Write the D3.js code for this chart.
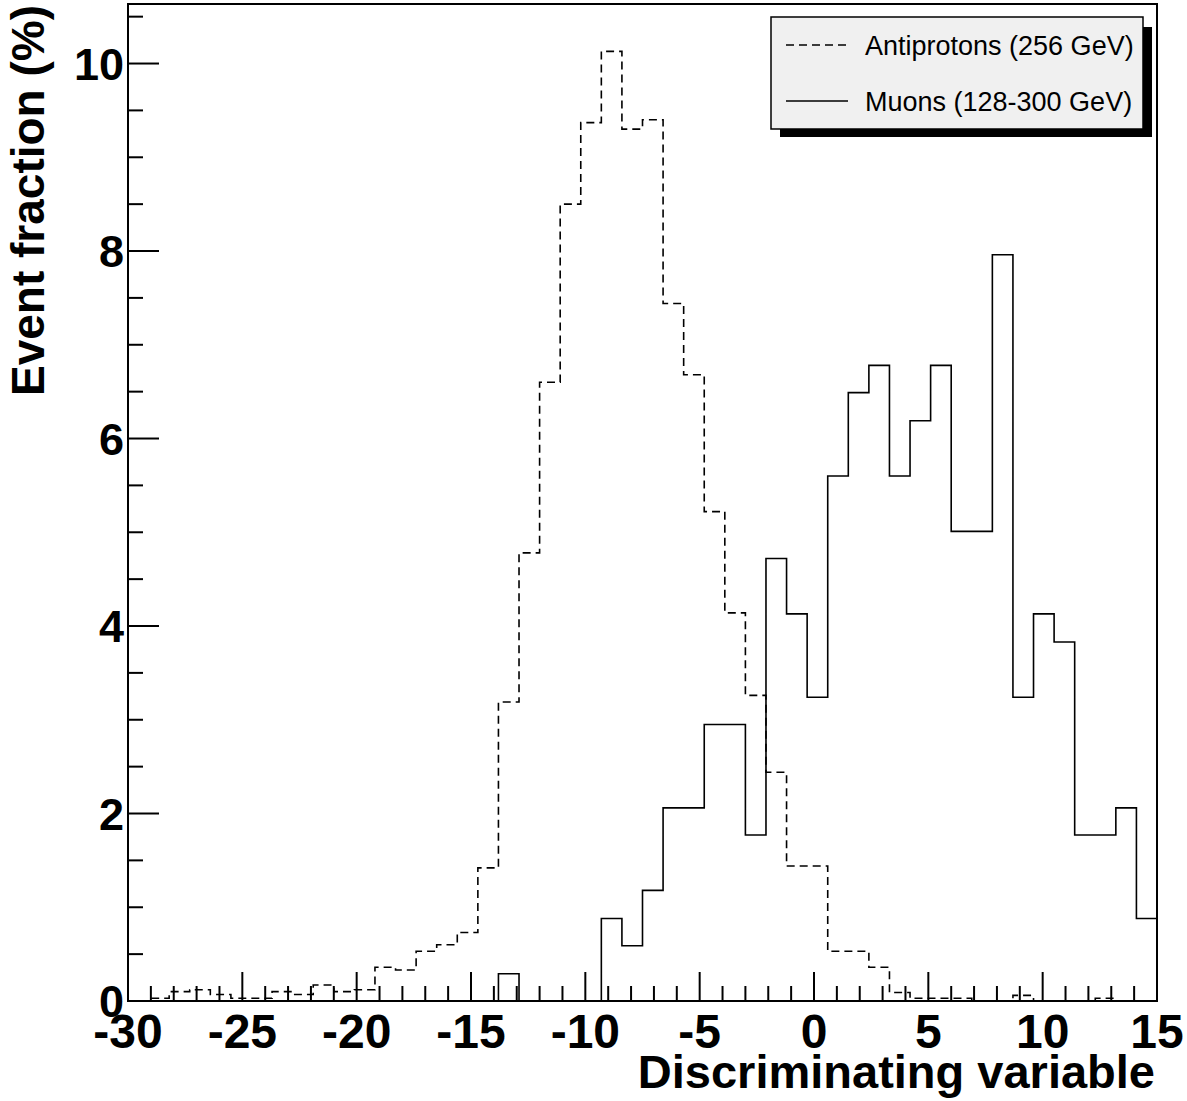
<!DOCTYPE html>
<html>
<head>
<meta charset="utf-8">
<script src="https://cdn.jsdelivr.net/npm/d3@7"></script>
<style>
  body { margin: 0; background: #fff; }
  svg { display: block; font-family: "Liberation Sans", Arial, Helvetica, sans-serif; }
</style>
</head>
<body>
<svg id="chart" width="1187" height="1101"></svg>
<script>
// histogram binning: 50 bins from -30 to 15
const binLow = -30;
const binWidth = 0.9;
const nBins = 50;

// event fraction (%) per bin
const antiprotons = [
  0, 0.03, 0.10, 0.12, 0.07, 0.03, 0.03, 0.10, 0.07, 0.17,
  0.10, 0.12, 0.36, 0.33, 0.53, 0.60, 0.73, 1.42, 3.19, 4.78,
  6.60, 8.50, 9.37, 10.13, 9.30, 9.40, 7.44, 6.68, 5.22, 4.14,
  3.26, 2.44, 1.44, 1.44, 0.53, 0.53, 0.36, 0.09, 0.03, 0.03,
  0.03, 0, 0, 0.06, 0, 0, 0, 0.03, 0, 0
];
const muons = [
  0, 0, 0, 0, 0, 0, 0, 0, 0, 0,
  0, 0, 0, 0, 0, 0, 0, 0, 0.29, 0,
  0, 0, 0, 0.88, 0.59, 1.18, 2.06, 2.06, 2.95, 2.95,
  1.77, 4.72, 4.13, 3.24, 5.60, 6.49, 6.78, 5.60, 6.19, 6.78,
  5.01, 5.01, 7.96, 3.24, 4.13, 3.83, 1.77, 1.77, 2.06, 0.88
];

const xTicks = [-30, -25, -20, -15, -10, -5, 0, 5, 10, 15];
const yTicks = [0, 2, 4, 6, 8, 10];
const legendLabels = ["Antiprotons (256 GeV)", "Muons (128-300 GeV)"];

const svg = d3.select("#chart");
const plotL = 128, plotR = 1157, plotT = 4, plotB = 1001;

const x = d3.scaleLinear().domain([-30, 15]).range([plotL, plotR]);
const y = d3.scaleLinear().domain([0, 10.635]).range([plotB, plotT]);

const edges = d3.range(nBins + 1).map(i => binLow + binWidth * i);

function stepPoints(vals) {
  const pts = vals.map((v, i) => [edges[i], v]);
  pts.push([edges[nBins], vals[nBins - 1]]);
  return pts;
}

const line = d3.line()
  .x(d => x(d[0]))
  .y(d => y(d[1]))
  .curve(d3.curveStepAfter);

// histograms
svg.append("path")
  .datum(stepPoints(antiprotons))
  .attr("d", line)
  .attr("fill", "none")
  .attr("stroke", "#000")
  .attr("stroke-width", 1.6)
  .attr("stroke-dasharray", "8,5");

svg.append("path")
  .datum(stepPoints(muons))
  .attr("d", line)
  .attr("fill", "none")
  .attr("stroke", "#000")
  .attr("stroke-width", 1.6);

// frame
svg.append("rect")
  .attr("x", plotL).attr("y", plotT)
  .attr("width", plotR - plotL).attr("height", plotB - plotT)
  .attr("fill", "none").attr("stroke", "#000").attr("stroke-width", 2);

// x axis ticks (inside, pointing up)
const xAxis = svg.append("g").attr("transform", `translate(0,${plotB})`);
xAxis.selectAll("line")
  .data(d3.range(-30, 16, 1))
  .join("line")
  .attr("x1", d => x(d)).attr("x2", d => x(d))
  .attr("y1", 0).attr("y2", d => (d % 5 === 0 ? -29 : -15))
  .attr("stroke", "#000").attr("stroke-width", 2);
xAxis.selectAll("text")
  .data(xTicks)
  .join("text")
  .attr("x", d => x(d))
  .attr("y", 47)
  .attr("text-anchor", "middle")
  .attr("font-size", 48)
  .attr("font-weight", "bold")
  .text(d => d);

// y axis ticks (inside, pointing right)
const yAxis = svg.append("g").attr("transform", `translate(${plotL},0)`);
yAxis.selectAll("line")
  .data(d3.range(0, 10.75, 0.5))
  .join("line")
  .attr("y1", d => y(d)).attr("y2", d => y(d))
  .attr("x1", 0).attr("x2", d => (d % 2 === 0 ? 31 : 15))
  .attr("stroke", "#000").attr("stroke-width", 2);
yAxis.selectAll("text")
  .data(yTicks)
  .join("text")
  .attr("x", -4)
  .attr("y", d => y(d))
  .attr("dy", "0.36em")
  .attr("text-anchor", "end")
  .attr("font-size", 45)
  .attr("font-weight", "bold")
  .text(d => d);

// axis titles
svg.append("text")
  .attr("x", 1155).attr("y", 1088)
  .attr("text-anchor", "end")
  .attr("font-size", 47)
  .attr("font-weight", "bold")
  .text("Discriminating variable");

svg.append("text")
  .attr("transform", "translate(44,5) rotate(-90)")
  .attr("text-anchor", "end")
  .attr("font-size", 46)
  .attr("font-weight", "bold")
  .text("Event fraction (%)");

// legend with drop shadow
const lg = svg.append("g");
lg.append("rect")
  .attr("x", 780).attr("y", 27).attr("width", 372).attr("height", 110)
  .attr("fill", "#000");
lg.append("rect")
  .attr("x", 771).attr("y", 17).attr("width", 372).attr("height", 112)
  .attr("fill", "#f0f0f0").attr("stroke", "#000").attr("stroke-width", 1.5);

const rows = [
  { label: legendLabels[0], dash: "8,5", ly: 45, ty: 55 },
  { label: legendLabels[1], dash: null, ly: 101, ty: 111 }
];
rows.forEach(r => {
  lg.append("line")
    .attr("x1", 786).attr("x2", 848)
    .attr("y1", r.ly).attr("y2", r.ly)
    .attr("stroke", "#000").attr("stroke-width", 1.6)
    .attr("stroke-dasharray", r.dash);
  lg.append("text")
    .attr("x", 865).attr("y", r.ty)
    .attr("font-size", 27)
    .text(r.label);
});
</script>
</body>
</html>
